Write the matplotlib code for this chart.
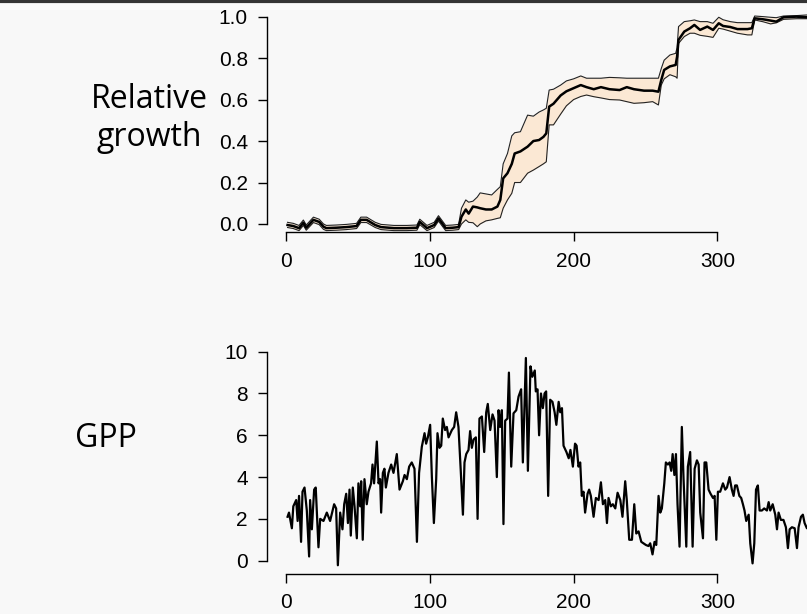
import matplotlib.pyplot as plt
from matplotlib.lines import Line2D

gpp_day = [1, 2, 4, 5, 7, 8, 9, 10.4, 11.4, 12.8, 14.4, 16, 16.7, 17.9, 19.5, 20.6,
           22.5, 23.7, 26, 28.3, 30.6, 33.4, 34.8, 36, 37.6, 39.2, 40.4, 41.8, 43,
           44.1, 45, 46.4, 47.6, 49.2, 50.3, 51.5, 52.2, 53.3, 54.5, 56.1, 57.3,
           59.1, 60.1, 61.2, 63.1, 64.3, 65.4, 66.1, 67.3, 68.4, 69.4, 71.2, 73.1,
           74.7, 77, 78.9, 81.2, 82.4, 84, 85.6, 87.4, 89.3, 91, 92.5, 94.4, 96.3,
           97.4, 98.6, 100.2, 101.4, 102.8, 104.4, 105.3, 106.7, 107.9, 109, 110.6,
           111.8, 113, 115.3, 116.9, 118.3, 119.9, 121.5, 123, 124.1, 125.3, 126.9,
           128, 129.2, 130.4, 132, 133.2, 134.5, 136.2, 137.8, 139.2, 140.3, 142,
           143.6, 145, 146.6, 147.8, 148.9, 150.1, 151.2, 152.4, 154, 155, 156.6,
           158.2, 160.1, 161.7, 163.5, 164.7, 166.8, 168.2, 170, 171.3, 173, 173.7,
           174.9, 176, 177.3, 178.6, 179.8, 180.9, 182.3, 183.7, 185.3, 186.8, 188,
           189.6, 190.7, 191.9, 193, 195, 196.6, 197.8, 199.5, 201, 202.1, 203.4,
           204.6, 205.7, 206.9, 208, 209.7, 210.8, 212, 213.9, 215.5, 217.4, 219,
           220.4, 222, 223.2, 224.3, 225.9, 227.3, 229, 230.6, 232.5, 234, 235.9,
           237, 238.7, 240.6, 242.2, 243.6, 245.2, 247.1, 248.6, 250.3, 252.1,
           253.3, 254.9, 256.3, 257.5, 259.1, 260.3, 261.4, 263.1, 264.2, 265.6,
           266.8, 267.9, 268.9, 270.1, 271.2, 272.3, 273.7, 275.3, 276.5, 278.4,
           279.5, 281.1, 282.8, 284.2, 285.8, 287, 288.1, 290, 291.1, 292.3, 293.9,
           295.3, 297, 298.1, 299.3, 300.4, 302, 303.9, 305.5, 306.7, 308.5, 310.1,
           311.3, 312.4, 313.6, 315.3, 316.6, 317.8, 318.9, 320.1, 321.8, 322.9,
           324.5, 325.7, 326.9, 328.2, 329.4, 331, 332.6, 334.5, 335.7, 336.8,
           338.5, 340.3, 341.5, 342.6, 344.2, 346, 347.7, 349.1, 350.3, 351.9,
           353.8, 355.4, 356.5, 358.2, 359.5, 360.7, 362.3, 364]
gpp_val = [2.1, 2.3, 1.55, 2.6, 2.9, 1.9, 3.1, 0.9, 3.3, 3.5, 2.4, 0.2, 2.9, 1.5, 3.4, 3.5,
           0.64, 2.0, 1.9, 2.3, 1.9, 2.7, 2.5, -0.22, 2.3, 1.5, 2.7, 3.2, 1.8,
           3.4, 1.2, 3.5, 2.6, 1.07, 3.7, 2.6, 3.8, 1.0, 3.9, 2.7, 3.3,
           3.7, 4.6, 3.7, 5.7, 3.7, 3.9, 2.3, 4.2, 4.4, 3.5, 4.2, 4.6,
           4.2, 5.1, 3.4, 3.8, 4.1, 3.9, 4.5, 4.7, 4.4, 0.9, 4.2, 5.45, 6.1,
           5.6, 5.9, 6.5, 4.0, 1.8, 3.9, 6.1, 5.4, 5.5, 6.8, 6.25,
           6.4, 5.9, 6.25, 6.4, 7.1, 6.4, 4.3, 2.2, 4.7, 5.1, 5.3,
           6.2, 5.4, 5.8, 5.9, 2.0, 6.8, 6.9, 5.2, 7.1, 7.5, 6.25,
           7.0, 6.7, 4.0, 7.2, 6.4, 7.2, 1.75, 6.7, 6.8, 9.0, 4.5,
           7.05, 7.2, 7.85, 8.2, 4.7, 9.7, 4.3, 9.3, 8.8, 9.1, 8.1,
           8.2, 6.0, 8.0, 7.3, 8.0, 8.1, 3.1, 7.7, 7.6, 7.1, 6.5,
           7.6, 7.1, 7.3, 5.5, 5.2, 4.9, 5.3, 4.5, 5.6, 5.5, 4.5,
           4.7, 3.1, 3.3, 2.3, 3.2, 3.4, 3.1, 2.1, 3.0, 2.9, 3.75,
           2.7, 2.9, 1.8, 3.0, 2.6, 2.7, 2.5, 3.25, 2.9, 2.1, 3.8,
           2.9, 1.0, 1.0, 2.7, 1.3, 1.4, 0.9, 0.83, 0.75, 0.7,
           0.83, 0.3, 0.9, 0.75, 3.1, 2.3, 2.5, 3.7, 4.7, 4.6,
           4.7, 4.3, 5.1, 4.1, 5.1, 2.7, 0.67, 6.4, 3.9, 0.67,
           4.5, 5.2, 0.67, 4.4, 4.8, 4.6, 2.3, 1.07, 4.7, 4.7, 3.4,
           3.2, 3.0, 3.1, 1.0, 3.3, 3.3, 3.7, 3.4, 3.5, 4.0, 3.4,
           3.1, 3.6, 3.6, 3.1, 3.0, 2.7, 2.4, 1.9, 2.2, 0.83,
           -0.13, 0.83, 3.4, 3.6, 2.4, 2.4, 2.5, 2.4, 2.8, 2.4,
           2.7, 2.2, 1.5, 2.3, 1.95, 1.95, 1.6, 0.6, 1.5, 1.6,
           1.55, 0.6, 1.6, 2.1, 2.2, 1.8, 1.55, 1.7]

# Relative growth: median with lower/upper bounds
growth_day = [1, 5, 9, 12, 14, 19, 23, 26, 28, 35, 42, 49, 52, 56, 62, 66, 75, 84, 91,
              93, 98, 103, 106, 111, 116, 120, 122, 125, 127, 130, 133, 135, 139, 143,
              147, 149, 151, 154, 157, 159, 163, 168, 172, 176, 179, 181, 183, 186,
              191, 195, 200, 205, 209, 214, 219, 225, 232, 237, 242, 249, 255, 259,
              261, 263, 267, 271, 272, 273, 277, 281, 284, 288, 293, 297, 301, 304,
              309, 314, 321, 324, 326, 332, 337, 341, 346, 355, 362, 365]
growth_mid = [-0.005, -0.01, -0.02, 0.006, -0.018, 0.02, 0.01, -0.013, -0.02, -0.018,
              -0.015, -0.01, 0.02, 0.02, -0.005, -0.015, -0.02, -0.02, -0.018,
              0.01, -0.02, -0.005, 0.027, -0.02, -0.018, -0.015, 0.035, 0.07, 0.05,
              0.084, 0.08, 0.076, 0.07, 0.07, 0.084, 0.116, 0.22, 0.245, 0.29, 0.34,
              0.35, 0.373, 0.4, 0.405, 0.42, 0.437, 0.566, 0.58, 0.62, 0.64, 0.655,
              0.67, 0.66, 0.65, 0.66, 0.65, 0.646, 0.66, 0.65, 0.643, 0.643, 0.638,
              0.695, 0.743, 0.76, 0.767, 0.807, 0.888, 0.928, 0.944, 0.96, 0.936,
              0.952, 0.936, 0.968, 0.955, 0.95, 0.94, 0.94, 0.944, 0.992, 0.987,
              0.981, 0.976, 0.997, 1.0, 0.997, 0.998]
growth_lo = [-0.017, -0.022, -0.032, -0.007, -0.03, 0.007, -0.003, -0.026, -0.032, -0.03,
             -0.027, -0.022, 0.007, 0.007, -0.017, -0.027, -0.032, -0.032, -0.03,
             -0.003, -0.032, -0.017, 0.014, -0.032, -0.03, -0.027, 0.0, 0.02, 0.008,
             0.006, -0.013, 0.0, 0.015, 0.02, 0.027, 0.03, 0.076, 0.116, 0.148, 0.2,
             0.2, 0.245, 0.26, 0.277, 0.29, 0.3, 0.478, 0.478, 0.53, 0.57, 0.6,
             0.615, 0.622, 0.614, 0.608, 0.6, 0.598, 0.59, 0.582, 0.585, 0.59, 0.574,
             0.67, 0.7, 0.72, 0.71, 0.703, 0.871, 0.904, 0.92, 0.92, 0.91,
             0.905, 0.9, 0.944, 0.94, 0.93, 0.92, 0.912, 0.912, 0.984, 0.975,
             0.965, 0.97, 0.987, 0.99, 0.99, 0.99]
growth_hi = [0.008, 0.003, -0.007, 0.019, -0.005, 0.033, 0.023, 0.0, -0.007, -0.005,
             -0.002, 0.003, 0.033, 0.033, 0.008, -0.002, -0.007, -0.007, -0.005,
             0.023, -0.007, 0.008, 0.04, -0.007, -0.005, -0.002, 0.076, 0.116, 0.105,
             0.11, 0.13, 0.15, 0.145, 0.14, 0.167, 0.18, 0.29, 0.34, 0.425, 0.44,
             0.445, 0.525, 0.52, 0.54, 0.55, 0.558, 0.646, 0.65, 0.67, 0.69, 0.7,
             0.714, 0.703, 0.703, 0.703, 0.707, 0.705, 0.703, 0.703, 0.703, 0.703, 0.703,
             0.75, 0.79, 0.815, 0.823, 0.85, 0.952, 0.976, 0.98, 0.984, 0.976,
             0.976, 0.968, 0.997, 0.985, 0.976, 0.971, 0.971, 0.971, 1.003, 1.0,
             0.997, 0.995, 1.003, 1.005, 1.008, 1.008]

bg = "#f8f8f8"
band_fill = "#fbe8d4"
tick_font = {"family": "Liberation Sans", "size": 15}
label_font = {"family": "Open Sans", "size": 23}


def r_style_axis(ax, yticks, xbound, ybound):
    # mimic base-R axes: no box, axis lines only span the tick range
    for side in ("top", "right"):
        ax.spines[side].set_visible(False)
    ax.spines["left"].set_bounds(*ybound)
    ax.spines["bottom"].set_bounds(*xbound)
    for side in ("left", "bottom"):
        ax.spines[side].set_linewidth(1.0)
    ax.set_facecolor(bg)
    ax.set_xticks([0, 100, 200, 300])
    ax.set_yticks(yticks)
    ax.tick_params(direction="out", length=6.5, width=1.0)
    ax.tick_params(axis="x", pad=7.5)
    ax.tick_params(axis="y", pad=7)
    for lab in ax.get_xticklabels() + ax.get_yticklabels():
        lab.set_fontfamily(tick_font["family"])
        lab.set_fontsize(tick_font["size"])


fig = plt.figure(figsize=(8.07, 6.14), dpi=100, facecolor=bg)

# top panel: relative growth with uncertainty band
ax1 = fig.add_axes([0.3305, 0.6217, 0.70, 0.3647])
ax1.fill_between(growth_day, growth_lo, growth_hi, color=band_fill, lw=0)
ax1.plot(growth_day, growth_lo, color="#222222", lw=0.8)
ax1.plot(growth_day, growth_hi, color="#222222", lw=0.8)
ax1.plot(growth_day, growth_mid, color="black", lw=1.8)
ax1.set_xlim(-13.5, 379.5)
ax1.set_ylim(-0.04, 1.04)
r_style_axis(ax1, [0.0, 0.2, 0.4, 0.6, 0.8, 1.0], (0, 300), (0, 1))
ax1.set_yticklabels(["0.0", "0.2", "0.4", "0.6", "0.8", "1.0"])

# bottom panel: GPP
ax2 = fig.add_axes([0.3305, 0.0651, 0.70, 0.3655])
ax2.plot(gpp_day, gpp_val, color="black", lw=1.6)
ax2.set_xlim(-13.5, 379.5)
ax2.set_ylim(-0.64, 10.1)
r_style_axis(ax2, [0, 2, 4, 6, 8, 10], (0, 300), (0, 10))

fig.text(0.185, 0.807, "Relative\ngrowth", ha="center", va="center",
         linespacing=1.2, **label_font)
fig.text(0.131, 0.286, "GPP", ha="center", va="center", **label_font)

# dark rule along the top edge
fig.add_artist(Line2D([0, 1], [0.998, 0.998], transform=fig.transFigure,
                      color="#333333", lw=3))

fig.savefig("out.png", dpi=100, facecolor=bg)
